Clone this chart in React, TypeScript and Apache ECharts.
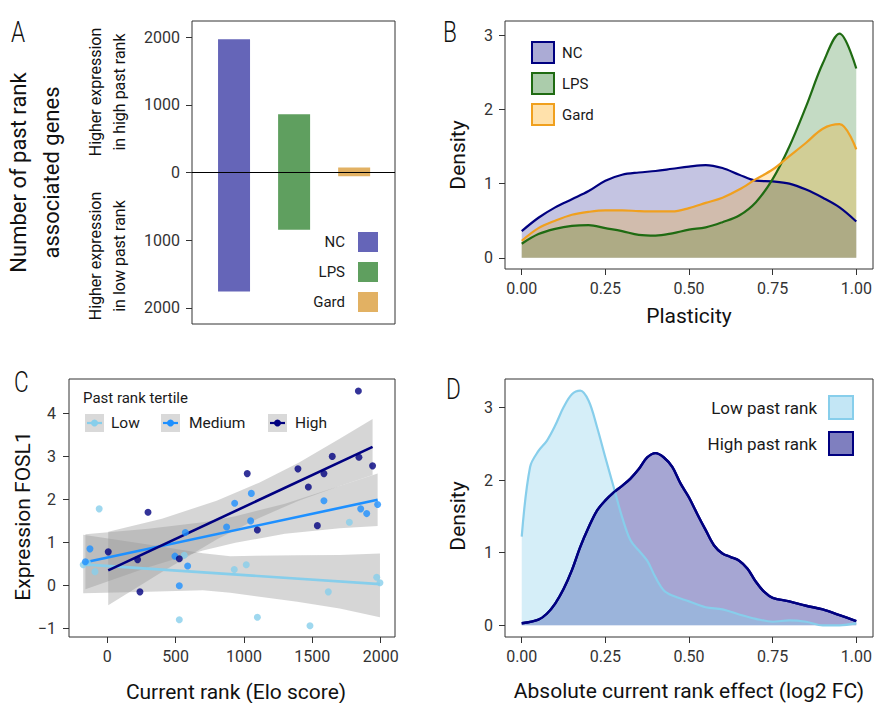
import React, { useEffect, useRef } from "react";
import * as echarts from "echarts";

const FONT = "Roboto, 'Liberation Sans', sans-serif";

// ---------- Panel A ----------
const aGroups = ["NC", "LPS", "Gard"];
const aHigh = [1970, 860, 75];
const aLow = [1760, 845, 55];
const aColors = ["#6565b8", "#5f9f5f", "#e2b163"];
const aTicks = [-2000, -1000, 0, 1000, 2000];

// ---------- Panel B ----------
const bX = [0, 0.05, 0.1, 0.15, 0.2, 0.25, 0.3, 0.35, 0.4, 0.45, 0.5, 0.55, 0.6, 0.65, 0.7, 0.75, 0.8, 0.85, 0.9, 0.95, 1];
const bNC = [0.36, 0.54, 0.68, 0.79, 0.9, 1.04, 1.12, 1.15, 1.17, 1.2, 1.23, 1.25, 1.21, 1.12, 1.04, 1.03, 1.0, 0.92, 0.81, 0.68, 0.49];
const bLPS = [0.19, 0.32, 0.39, 0.43, 0.44, 0.4, 0.36, 0.31, 0.3, 0.33, 0.38, 0.41, 0.48, 0.57, 0.75, 1.06, 1.5, 2.04, 2.62, 3.02, 2.55];
const bGard = [0.23, 0.4, 0.5, 0.58, 0.62, 0.64, 0.64, 0.63, 0.625, 0.625, 0.67, 0.74, 0.81, 0.92, 1.06, 1.19, 1.37, 1.55, 1.74, 1.8, 1.46];
const bTicksX = [0, 0.25, 0.5, 0.75, 1];
const bTicksY = [0, 1, 2, 3];

// ---------- Panel C ----------
const cLowX = [-176, -145, -90, -59, 527, 563, 929, 1017, 1098, 1483, 1617, 1771, 1971, 1995];
const cLowY = [0.48, 0.53, 0.32, 1.78, -0.8, 0.7, 0.37, 0.48, -0.74, -0.94, -0.15, 1.47, 0.19, 0.06];
const cMedX = [-160, -127, 495, 527, 571, 588, 873, 932, 1049, 1054, 1585, 1854, 1898, 1978];
const cMedY = [0.55, 0.85, 0.68, -0.01, 1.23, 0.45, 1.36, 1.91, 1.5, 2.14, 1.97, 1.78, 1.67, 1.88];
const cHighX = [7, 222, 239, 298, 527, 1024, 1098, 1395, 1471, 1537, 1585, 1646, 1837, 1841, 1941];
const cHighY = [0.78, 0.6, -0.15, 1.7, 0.62, 2.6, 1.29, 2.71, 2.29, 1.39, 2.6, 3.0, 4.52, 2.98, 2.78];

const cLowFitX = [-176, 1995];
const cLowFitY = [0.49, 0.03];
const cMedFitX = [-160, 1978];
const cMedFitY = [0.54, 1.99];
const cHighFitX = [7, 1941];
const cHighFitY = [0.35, 3.22];

const cLowBandX = [-176, 300, 700, 900, 1390, 1700, 1995];
const cLowBandLo = [-0.18, -0.15, -0.115, -0.17, -0.38, -0.535, -0.74];
const cLowBandHi = [1.18, 0.95, 0.745, 0.68, 0.7, 0.705, 0.74];
const cMedBandX = [-160, 300, 700, 937, 1300, 1700, 1978];
const cMedBandLo = [-0.09, 0.42, 0.81, 0.99, 1.2, 1.33, 1.38];
const cMedBandHi = [1.19, 1.32, 1.47, 1.61, 1.9, 2.31, 2.6];
const cHighBandX = [7, 400, 800, 1111, 1400, 1700, 1941];
const cHighBandLo = [-0.46, 0.31, 1.07, 1.57, 1.97, 2.31, 2.57];
const cHighBandHi = [1.25, 1.55, 1.97, 2.39, 2.85, 3.41, 3.87];

const cTicksX = [0, 500, 1000, 1500, 2000];
const cTicksY = [-1, 0, 1, 2, 3, 4];
const cGroups = ["Low", "Medium", "High"];
const cColors = ["#87ceeb", "#1e90ff", "#000080"];

// ---------- Panel D ----------
const dLowX = [0, 0.025, 0.05, 0.075, 0.1, 0.125, 0.15, 0.175, 0.2, 0.225, 0.25, 0.275, 0.3, 0.325, 0.35, 0.375, 0.4, 0.425, 0.45, 0.5, 0.55, 0.6, 0.65, 0.7, 0.75, 0.8, 0.85, 0.9, 0.95, 1.0];
const dLowY = [1.22, 2.18, 2.4, 2.54, 2.75, 3.0, 3.18, 3.23, 3.09, 2.73, 2.31, 1.9, 1.49, 1.17, 1.03, 0.89, 0.66, 0.48, 0.41, 0.33, 0.25, 0.22, 0.15, 0.09, 0.05, 0.07, 0.05, 0.0, 0.0, 0.03];
const dHighX = [0, 0.05, 0.075, 0.1, 0.125, 0.15, 0.175, 0.2, 0.225, 0.25, 0.275, 0.3, 0.325, 0.35, 0.375, 0.4, 0.425, 0.45, 0.475, 0.5, 0.525, 0.55, 0.575, 0.6, 0.625, 0.65, 0.675, 0.7, 0.725, 0.75, 0.8, 0.85, 0.9, 0.95, 1.0];
const dHighY = [0.03, 0.08, 0.16, 0.3, 0.5, 0.76, 1.08, 1.35, 1.58, 1.72, 1.83, 1.92, 2.02, 2.15, 2.31, 2.37, 2.31, 2.18, 1.95, 1.76, 1.53, 1.31, 1.1, 0.99, 0.94, 0.89, 0.78, 0.6, 0.46, 0.38, 0.33, 0.27, 0.22, 0.14, 0.06];
const dTicksY = [0, 1, 2, 3];

const pairs = (xs: number[], ys: number[]) => xs.map((x, i) => [x, ys[i]]);

function axisBase(ticks: number[], fmt: (v: number) => string, margin = 11) {
  return {
    axisLine: { show: false, onZero: false },
    axisTick: { show: true, length: 6, lineStyle: { color: "#333", width: 1 }, customValues: ticks },
    axisLabel: { customValues: ticks, formatter: fmt, fontSize: 16, fontFamily: FONT, color: "#333", margin },
    splitLine: { show: false },
  };
}

const nameStyle = { fontSize: 21, fontFamily: FONT, color: "#111" };

function bandSeries(xs: number[], lo: number[], hi: number[]) {
  return {
    type: "custom",
    xAxisIndex: 2,
    yAxisIndex: 2,
    z: 1,
    silent: true,
    clip: true,
    data: xs.map((x, i) => [x, lo[i], hi[i]]),
    renderItem: (params: any, api: any) => {
      if (params.dataIndex !== 0) return null;
      const pts: number[][] = [];
      for (let i = 0; i < xs.length; i++) pts.push(api.coord([xs[i], hi[i]]));
      for (let i = xs.length - 1; i >= 0; i--) pts.push(api.coord([xs[i], lo[i]]));
      return { type: "polygon", shape: { points: pts }, style: { fill: "rgba(153,153,153,0.4)" } };
    },
  };
}

function buildOption() {
  const two = (v: number) => v.toFixed(2);
  const plain = (v: number) => (v < 0 ? "\u2212" + Math.abs(v) : String(v));

  const grids = [
    { left: 192, top: 21, width: 203, height: 303 },
    { left: 505, top: 21, width: 368, height: 248 },
    { left: 69, top: 379, width: 326, height: 258 },
    { left: 505, top: 379, width: 368, height: 258 },
  ].map((g) => ({ ...g, show: true, borderColor: "#333", borderWidth: 1, backgroundColor: "transparent" }));

  const xAxis = [
    { type: "value", gridIndex: 0, min: 0.3, max: 3.68, show: false },
    {
      type: "value", gridIndex: 1, min: -0.05, max: 1.05, ...axisBase(bTicksX, two),
      name: "Plasticity", nameLocation: "middle", nameGap: 36, nameTextStyle: nameStyle,
    },
    {
      type: "value", gridIndex: 2, min: -280, max: 2105, ...axisBase(cTicksX, plain),
      name: "Current rank (Elo score)", nameLocation: "middle", nameGap: 44,
      nameTextStyle: { ...nameStyle, padding: [0, 0, 0, 8] },
    },
    {
      type: "value", gridIndex: 3, min: -0.05, max: 1.05, ...axisBase(bTicksX, two),
      name: "Absolute current rank effect (log2 FC)", nameLocation: "middle", nameGap: 43, nameTextStyle: nameStyle,
    },
  ];

  const yAxis = [
    {
      type: "value", gridIndex: 0, min: -2240, max: 2240, ...axisBase(aTicks, (v: number) => String(Math.abs(v)), 12),
      name: "Number of past rank\nassociated genes", nameLocation: "middle", nameGap: 124,
      nameTextStyle: { ...nameStyle, fontSize: 22, lineHeight: 33 },
    },
    {
      type: "value", gridIndex: 1, min: -0.15, max: 3.19, ...axisBase(bTicksY, plain, 12),
      name: "Density", nameLocation: "middle", nameGap: 37,
      nameTextStyle: { ...nameStyle, padding: [0, 20, 0, 0] },
    },
    {
      type: "value", gridIndex: 2, min: -1.2, max: 4.8, ...axisBase(cTicksY, plain, 13),
      name: "Expression FOSL1", nameLocation: "middle", nameGap: 35,
      nameTextStyle: { ...nameStyle, padding: [0, 16, 0, 0] },
    },
    {
      type: "value", gridIndex: 3, min: -0.16, max: 3.39, ...axisBase(dTicksY, plain, 12),
      name: "Density", nameLocation: "middle", nameGap: 37,
      nameTextStyle: { ...nameStyle, padding: [0, 16, 0, 0] },
    },
  ];

  const series: any[] = [];

  // Panel A bars
  aGroups.forEach((g, i) => {
    series.push({
      type: "bar",
      name: g,
      xAxisIndex: 0,
      yAxisIndex: 0,
      barWidth: 32,
      barGap: "-100%",
      itemStyle: { color: aColors[i] },
      data: [[i + 1, aHigh[i]], [i + 1, -aLow[i]]],
      markLine:
        i === 0
          ? {
              silent: true,
              symbol: ["none", "none"],
              label: { show: false },
              lineStyle: { color: "#000", width: 1, type: "solid" },
              data: [{ yAxis: 0 }],
            }
          : undefined,
    });
  });

  // Panel B densities
  const bSets = [
    { name: "NC", ys: bNC, line: "#000080", fill: "rgba(0,0,128,0.33)" },
    { name: "LPS", ys: bLPS, line: "#1f6b12", fill: "rgba(0,100,0,0.33)" },
    { name: "Gard", ys: bGard, line: "#f0a01e", fill: "rgba(255,165,0,0.33)" },
  ];
  bSets.forEach((s) => {
    series.push({
      type: "line",
      name: s.name,
      xAxisIndex: 1,
      yAxisIndex: 1,
      data: pairs(bX, s.ys),
      smooth: 0.35,
      symbol: "none",
      lineStyle: { color: s.line, width: 2.2 },
      itemStyle: { color: s.line },
      areaStyle: { color: s.fill },
    });
  });

  // Panel C ribbons, fits, points
  series.push(bandSeries(cLowBandX, cLowBandLo, cLowBandHi));
  series.push(bandSeries(cMedBandX, cMedBandLo, cMedBandHi));
  series.push(bandSeries(cHighBandX, cHighBandLo, cHighBandHi));
  const fits = [
    [cLowFitX, cLowFitY],
    [cMedFitX, cMedFitY],
    [cHighFitX, cHighFitY],
  ];
  const pts = [
    [cLowX, cLowY],
    [cMedX, cMedY],
    [cHighX, cHighY],
  ];
  cGroups.forEach((g, i) => {
    series.push({
      type: "line",
      name: g + " fit",
      xAxisIndex: 2,
      yAxisIndex: 2,
      z: 3,
      data: pairs(fits[i][0], fits[i][1]),
      symbol: "none",
      lineStyle: { color: cColors[i], width: 2.6 },
      silent: true,
    });
  });
  cGroups.forEach((g, i) => {
    series.push({
      type: "scatter",
      name: g,
      xAxisIndex: 2,
      yAxisIndex: 2,
      z: 4,
      data: pairs(pts[i][0], pts[i][1]),
      symbol: "circle",
      symbolSize: 7,
      itemStyle: { color: cColors[i] },
    });
  });

  // Panel D densities
  series.push({
    type: "line",
    name: "High past rank",
    xAxisIndex: 3,
    yAxisIndex: 3,
    data: pairs(dHighX, dHighY),
    smooth: 0.35,
    symbol: "none",
    lineStyle: { color: "#000080", width: 2.4 },
    itemStyle: { color: "#000080" },
    areaStyle: { color: "rgba(0,0,128,0.5)" },
  });
  series.push({
    type: "line",
    name: "Low past rank",
    xAxisIndex: 3,
    yAxisIndex: 3,
    data: pairs(dLowX, dLowY),
    smooth: 0.35,
    symbol: "none",
    lineStyle: { color: "#87ceeb", width: 2.2 },
    itemStyle: { color: "#87ceeb" },
    areaStyle: { color: "rgba(135,206,235,0.5)" },
  });
  series.push({
    type: "line",
    name: "High past rank line",
    xAxisIndex: 3,
    yAxisIndex: 3,
    data: pairs(dHighX, dHighY),
    smooth: 0.35,
    symbol: "none",
    lineStyle: { color: "#000080", width: 2.4 },
    silent: true,
  });

  const legend = [
    {
      orient: "vertical",
      right: 879 - 378,
      top: 232,
      align: "right",
      padding: 0,
      itemWidth: 20,
      itemHeight: 20,
      itemGap: 10,
      icon: "rect",
      selectedMode: false,
      data: aGroups.map((g, i) => ({ name: g, itemStyle: { color: aColors[i], borderWidth: 0 } })),
      textStyle: { fontSize: 15, fontFamily: FONT, color: "#1a1a1a", padding: [0, 8, 0, 0] },
    },
    {
      orient: "vertical",
      left: 531,
      top: 41,
      padding: 0,
      itemWidth: 22,
      itemHeight: 21,
      itemGap: 8,
      icon: "rect",
      selectedMode: false,
      data: bSets.map((s) => ({ name: s.name, itemStyle: { color: s.fill, borderColor: s.line, borderWidth: 2 } })),
      textStyle: { fontSize: 15, fontFamily: FONT, color: "#1a1a1a", padding: [0, 0, 0, 3] },
    },
    {
      orient: "vertical",
      right: 879 - 854,
      top: 395,
      align: "right",
      padding: 0,
      itemWidth: 24,
      itemHeight: 23,
      itemGap: 11,
      icon: "rect",
      selectedMode: false,
      data: [
        { name: "Low past rank", itemStyle: { color: "rgba(135,206,235,0.5)", borderColor: "#87ceeb", borderWidth: 2 } },
        { name: "High past rank", itemStyle: { color: "rgba(0,0,128,0.5)", borderColor: "#000080", borderWidth: 2 } },
      ],
      textStyle: { fontSize: 17, fontFamily: FONT, color: "#1a1a1a", padding: [0, 7, 0, 0] },
    },
  ];

  const letter = (t: string, x: number, y: number) => ({
    type: "text",
    x,
    y,
    scaleX: 0.78,
    style: { text: t, fontSize: 29, fontFamily: FONT, fontWeight: 300, fill: "#111", textAlign: "left", textVerticalAlign: "middle", verticalAlign: "middle" },
  });
  const sideText = (t: string, x: number, y: number) => ({
    type: "text",
    x,
    y,
    rotation: Math.PI / 2,
    style: { text: t, fontSize: 16, lineHeight: 24, fontFamily: FONT, fill: "#111", textAlign: "center", textVerticalAlign: "middle", verticalAlign: "middle" },
  });

  const cLegendKeys = [
    { label: "Low", kx: 85, tx: 111 },
    { label: "Medium", kx: 161, tx: 189 },
    { label: "High", kx: 268, tx: 295 },
  ];
  const legendC: any[] = [
    {
      type: "text",
      x: 83,
      y: 398,
      style: { text: "Past rank tertile", fontSize: 15, fontFamily: FONT, fill: "#1a1a1a", textAlign: "left", textVerticalAlign: "middle", verticalAlign: "middle" },
    },
  ];
  cLegendKeys.forEach((k, i) => {
    legendC.push({ type: "rect", shape: { x: k.kx, y: 414, width: 19, height: 18 }, style: { fill: "#d9d9d9" } });
    legendC.push({ type: "line", shape: { x1: k.kx + 2, y1: 423, x2: k.kx + 17, y2: 423 }, style: { stroke: cColors[i], lineWidth: 2.2 } });
    legendC.push({ type: "circle", shape: { cx: k.kx + 9.5, cy: 423, r: 3.5 }, style: { fill: cColors[i] } });
    legendC.push({
      type: "text",
      x: k.tx,
      y: 423,
      style: { text: k.label, fontSize: 15.5, fontFamily: FONT, fill: "#1a1a1a", textAlign: "left", textVerticalAlign: "middle", verticalAlign: "middle" },
    });
  });

  const graphic = [
    letter("A", 11, 32),
    letter("B", 443, 32),
    letter("C", 14, 382),
    letter("D", 446, 389),
    sideText("Higher expression\nin high past rank", 107, 92),
    sideText("Higher expression\nin low past rank", 107, 256),
    ...legendC,
  ];

  return {
    animation: false,
    backgroundColor: "#ffffff",
    textStyle: { fontFamily: FONT },
    grid: grids,
    xAxis,
    yAxis,
    legend,
    series,
    graphic,
  };
}

export default function App() {
  const ref = useRef<HTMLDivElement>(null);
  useEffect(() => {
    if (!ref.current) return;
    const chart = echarts.init(ref.current, undefined, { renderer: "svg" });
    chart.setOption(buildOption() as any);
    return () => chart.dispose();
  }, []);
  return <div ref={ref} style={{ position: "fixed", left: 0, top: 0, width: 879, height: 703, background: "#fff" }} />;
}
